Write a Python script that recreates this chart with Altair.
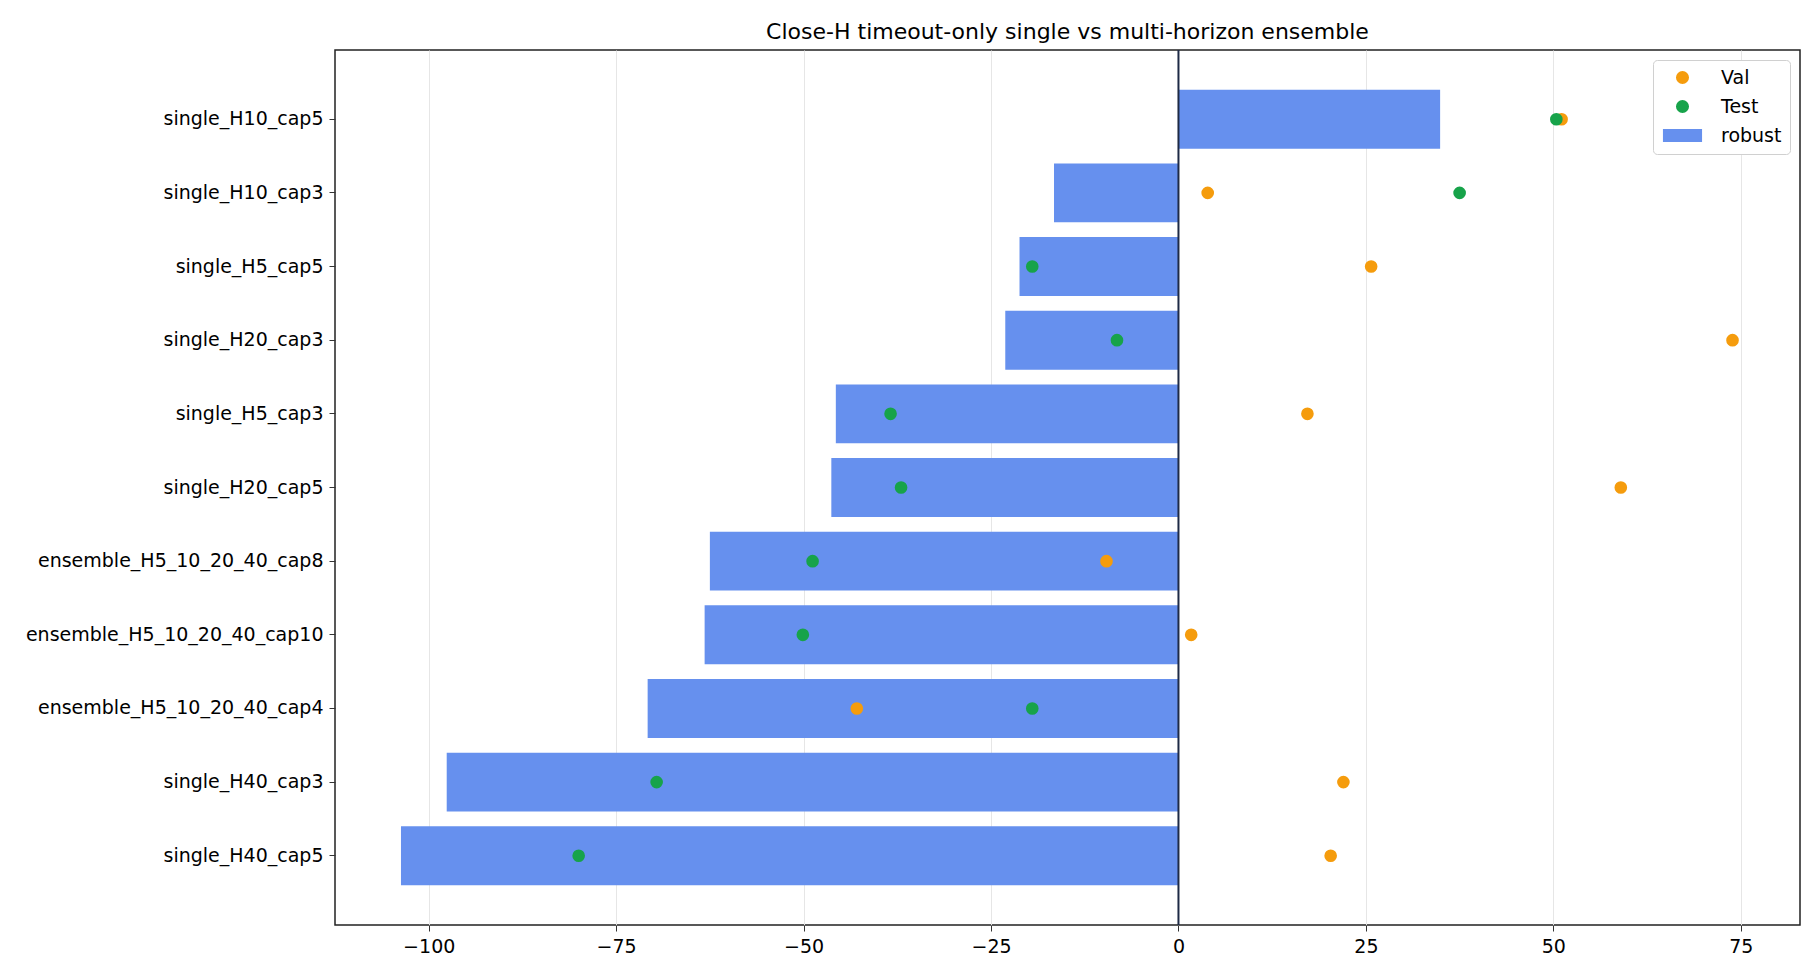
import altair as alt
import pandas as pd

labels = [
    "single_H10_cap5", "single_H10_cap3", "single_H5_cap5", "single_H20_cap3",
    "single_H5_cap3", "single_H20_cap5", "ensemble_H5_10_20_40_cap8",
    "ensemble_H5_10_20_40_cap10", "ensemble_H5_10_20_40_cap4",
    "single_H40_cap3", "single_H40_cap5",
]
robust = [34.9, -16.6, -21.2, -23.1, -45.7, -46.3, -62.5, -63.2, -70.8, -97.6, -103.7]
val = [51.1, 3.9, 25.7, 73.9, 17.2, 59.0, -9.6, 1.7, -42.9, 22.0, 20.3]
test = [50.4, 37.5, -19.5, -8.2, -38.4, -37.0, -48.8, -50.1, -19.5, -69.6, -80.0]

series_names = ["Val", "Test", "robust"]
series_colors = ["#f59c0d", "#17a34a", "#6690ee"]

bars = pd.DataFrame({"name": labels, "value": robust, "series": "robust"})
pts = pd.concat([
    pd.DataFrame({"name": labels, "value": val, "series": "Val", "order": 0}),
    pd.DataFrame({"name": labels, "value": test, "series": "Test", "order": 1}),
])

FONT = "DejaVu Sans"
FS = 19

xscale = alt.Scale(domain=[-112.5, 82.9], nice=False, zero=False)
yscale = alt.Scale(domain=labels, paddingInner=0.2, paddingOuter=0.54)
color_scale = alt.Scale(domain=series_names, range=series_colors)
shape_scale = alt.Scale(
    domain=series_names,
    range=["circle", "circle", "M-3,-1H3V1H-3Z"],
)
legend = alt.Legend(
    title=None, orient="top-right", offset=10,
    labelFont=FONT, labelFontSize=FS, labelColor="#000",
    symbolSize=170, symbolStrokeWidth=0, rowPadding=9,
    padding=8, strokeColor="#d0d0d0", cornerRadius=4, fillColor="white",
    labelOffset=29, symbolOffset=12,
)

xaxis = alt.Axis(
    title=None, values=[-100, -75, -50, -25, 0, 25, 50, 75], grid=True,
    gridColor="#e6e6e6", labelFont=FONT, labelFontSize=FS, labelColor="#000",
    tickColor="#333", tickSize=6, domain=False, labelPadding=6,
)
yaxis = alt.Axis(
    title=None, grid=False, labelFont=FONT, labelFontSize=FS, labelColor="#000",
    tickColor="#333", tickSize=6, domain=False, labelPadding=6, labelLimit=0,
)

bar_layer = alt.Chart(bars).mark_bar(opacity=1).encode(
    x=alt.X("value:Q", scale=xscale, axis=xaxis),
    y=alt.Y("name:N", scale=yscale, axis=yaxis, sort=labels),
    color=alt.Color("series:N", scale=color_scale, legend=legend),
)

zero_rule = alt.Chart(pd.DataFrame({"z": [0]})).mark_rule(
    color="#1e2a45", strokeWidth=2
).encode(x=alt.X("z:Q", scale=xscale))

pt_layer = alt.Chart(pts).mark_point(filled=True, size=160, opacity=1).encode(
    x=alt.X("value:Q", scale=xscale),
    y=alt.Y("name:N", scale=yscale, sort=labels),
    color=alt.Color("series:N", scale=color_scale, legend=legend),
    shape=alt.Shape("series:N", scale=shape_scale, legend=legend),
    order=alt.Order("order:Q"),
)

chart = alt.layer(bar_layer, zero_rule, pt_layer).properties(
    width=1465, height=875,
    padding={"left": 17, "top": 13, "right": 5, "bottom": 5},
    title=alt.Title(
        "Close-H timeout-only single vs multi-horizon ensemble",
        font=FONT, fontSize=22, fontWeight="normal", color="#000", offset=5,
    ),
).configure(
    background="white",
    view=alt.ViewConfig(stroke="#222", strokeWidth=1.5),
)

chart.save("out.html", embed_options={"renderer": "svg", "actions": False})
